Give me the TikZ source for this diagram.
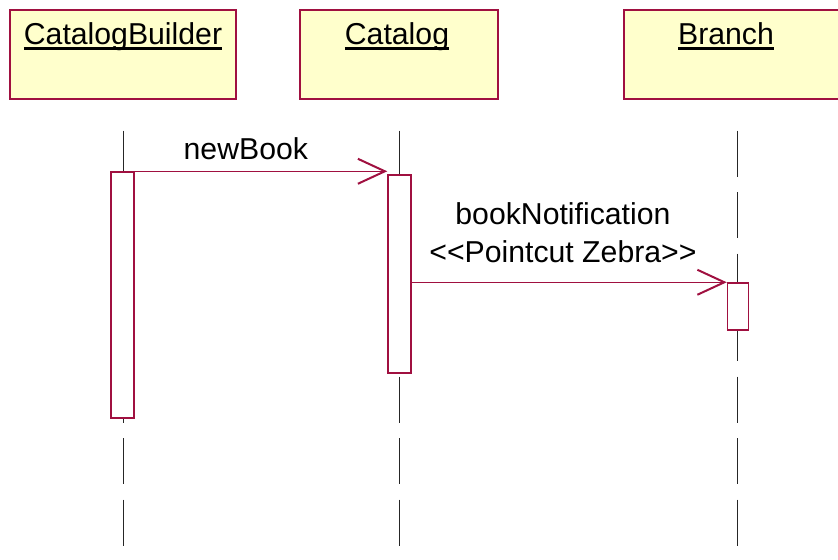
\documentclass[tikz,border=0pt]{standalone}
\usepackage{fontspec}
\setmainfont{Liberation Sans}
\usetikzlibrary{arrows.meta}
\definecolor{umlred}{RGB}{160,16,64}
\definecolor{umlyellow}{RGB}{255,255,204}
% underlined object name, rule kept close to the baseline
\newcommand\uname[1]{\setbox0\hbox{#1}\rlap{\rule[-0.19em]{\wd0}{0.08em}}\box0}

\begin{document}
\begin{tikzpicture}[x=0.02cm,y=-0.02cm,
    font=\fontsize{17.2}{21.6}\selectfont,
    obj/.style={draw=umlred,fill=umlyellow,line width=0.03cm,minimum height=1.78cm,inner sep=0},
    objname/.style={anchor=base,inner sep=0},
    act/.style={draw=umlred,fill=white,line width=0.03cm,minimum width=0.46cm,inner sep=0},
    life/.style={black!85,line width=0.02cm,dash pattern=on 0.92cm off 0.31cm},
    msg/.style={umlred,line width=0.02cm,-{Straight Barb[length=0.54cm,width=0.5cm,line width=0.04cm]}},
    msglabel/.style={black,inner sep=0,align=center}]
  \useasboundingbox (0,0) rectangle (838,559);
  % object heads
  \node[obj,minimum width=4.52cm] at (123,54.5) (cb){};
  \node[obj,minimum width=3.96cm] at (399,54.5) (cat){};
  \node[obj,minimum width=4.52cm] at (737,54.5) (br){};
  \node[objname] at (123,44) (cbname){\uname{CatalogBuilder}};
  \node[objname] at (397,44) (catname){\uname{Catalog}};
  \node[objname] at (726,44) (brname){\uname{Branch}};
  % lifelines
  \foreach \h in {cb,cat,br}
    \draw[life] ([yshift=-0.62cm]\h.south) -- ++(0,415);
  % activations
  \node[act,minimum height=4.92cm] at (122.5,295) (cbact){};
  \node[act,minimum height=3.96cm] at (399.5,274) (catact){};
  \node[act,minimum width=0.42cm,minimum height=0.94cm] at (738,306.5) (bract){};
  % messages
  \draw[msg] (cbact.north east) -- node[msglabel,above=0.22cm,pos=0.44]{newBook} (catact.west |- cbact.north east);
  \draw[msg] (catact.east |- bract.north west) -- node[msglabel,above=0.38cm,pos=0.48]{bookNotification\\<{}<Pointcut Zebra>{}>} (bract.north west);
\end{tikzpicture}
\end{document}
